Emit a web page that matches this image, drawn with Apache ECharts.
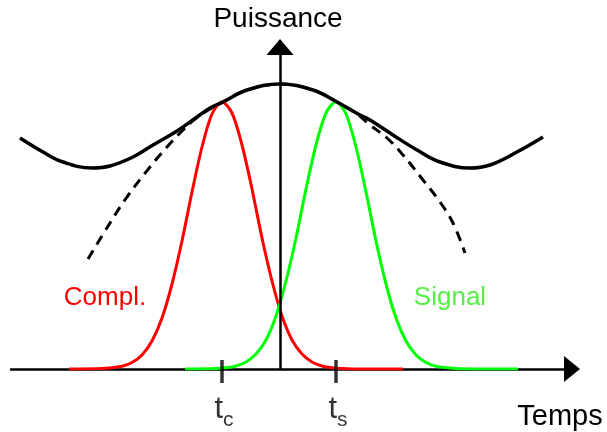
<!DOCTYPE html>
<html>
<head>
<meta charset="utf-8">
<script src="https://cdn.jsdelivr.net/npm/echarts@6/dist/echarts.min.js"></script>
<style>
  html, body { margin: 0; padding: 0; background: #fff; }
  #chart { width: 607px; height: 432px; }
</style>
</head>
<body>
<div id="chart"></div>
<script>
// Courbes : x = temps (0 sur l'axe vertical), y = puissance
const complX = [-211, -178, -158, -148, -138, -128, -118, -108, -98, -88, -78, -68, -58, -48, -38, -28, -18, -8, 2, 12, 22, 32, 42, 52, 62, 82, 123];
const complY = [0, 0.4, 2.7, 6.5, 14, 28, 51, 85, 128, 177, 222, 255, 267, 256, 224, 180, 131, 88, 53, 29, 15, 7, 3, 1.2, 0.5, 0, 0];

const signalX = [-95, -64, -54, -44, -34, -24, -14, -4, 6, 16, 26, 36, 46, 56, 66, 76, 86, 96, 106, 116, 126, 136, 146, 156, 176, 196, 238];
const signalY = [0, 0.5, 1.2, 3, 7, 15, 29, 53, 88, 131, 180, 224, 256, 267, 255, 222, 177, 128, 85, 51, 28, 14, 6.5, 2.7, 0.4, 0, 0];

// enveloppe (trait plein)
const envX = [-260, -237, -217, -188, -170, -147, -127, -103, -83, -70, -57, -33, 0, 33, 57, 80, 90, 113, 137, 160, 190, 210, 237, 263];
const envY = [231, 217, 207, 201, 203, 212, 224, 238, 252, 261, 267, 279, 285, 279, 267, 254, 249, 234, 219, 207, 201, 204, 217, 232];

// parabole (pointillés), confondue avec l'enveloppe vers le sommet
const parX = [-192, -170, -153, -130, -113, -97, -85, -70, -57, -33, 0, 33, 57, 77, 90, 107, 123, 143, 160, 173, 185];
const parY = [110, 146, 172, 202, 222, 239, 250, 260, 267, 279, 285, 279, 267, 255, 244, 231, 214, 189, 167, 146, 116];

// graduations
const tickX = [-58, 56];
const tickSub = ['c', 's'];

const zip = (xs, ys) => xs.map((x, i) => [x, ys[i]]);
const font = "'Liberation Sans', Arial, sans-serif";

const chart = echarts.init(document.getElementById('chart'));
chart.setOption({
  animation: false,
  backgroundColor: '#fff',
  grid: { left: 11, right: 35, top: 47, bottom: 63 },
  xAxis: {
    type: 'value', min: -269, max: 292, z: 0,
    axisLine: { lineStyle: { color: '#000', width: 2.5 }, symbol: ['none', 'triangle'], symbolSize: [26, 16] },
    axisTick: { show: false }, axisLabel: { show: false }, splitLine: { show: false }
  },
  yAxis: {
    type: 'value', min: 0, max: 322, z: 5,
    axisLine: { onZero: true, lineStyle: { color: '#000', width: 2.5 }, symbol: ['none', 'triangle'], symbolSize: [27, 16] },
    axisTick: { show: false }, axisLabel: { show: false }, splitLine: { show: false }
  },
  series: [
    {
      type: 'line', data: zip(parX, parY), smooth: 0.4, showSymbol: false, z: 2,
      lineStyle: { color: '#000', width: 3, type: [10, 7] }
    },
    {
      type: 'line', data: zip(complX, complY), smooth: 0.3, showSymbol: false, z: 3,
      lineStyle: { color: '#ff0000', width: 3 }
    },
    {
      type: 'line', data: zip(signalX, signalY), smooth: 0.3, showSymbol: false, z: 3,
      lineStyle: { color: '#00ff00', width: 3 }
    },
    {
      type: 'line', data: zip(envX, envY), smooth: 0.4, showSymbol: false, z: 4,
      lineStyle: { color: '#000', width: 3.5 }
    },
    {
      type: 'scatter', z: 6,
      data: tickX.map((x, i) => ({ value: [x, 0], sub: tickSub[i] })),
      symbol: 'rect', symbolSize: [3.5, 23], symbolOffset: [0, 2.5],
      itemStyle: { color: '#000' },
      label: {
        show: true, position: 'bottom', distance: 11, offset: [2, 0],
        formatter: p => '{t|t}{s|' + p.data.sub + '}',
        rich: {
          t: { fontFamily: font, fontSize: 31, color: '#000', verticalAlign: 'top', lineHeight: 34 },
          s: { fontFamily: font, fontSize: 21, color: '#000', verticalAlign: 'top', lineHeight: 20, padding: [16, 0, 0, 0] }
        }
      }
    }
  ],
  graphic: [
    { type: 'text', style: { text: 'Puissance', x: 278, y: 19, align: 'center', verticalAlign: 'middle', font: '28px ' + font, fill: '#000' } },
    { type: 'text', style: { text: 'Temps', x: 560, y: 417, align: 'center', verticalAlign: 'middle', font: '29px ' + font, fill: '#000' } },
    { type: 'text', style: { text: 'Compl.', x: 105, y: 298, align: 'center', verticalAlign: 'middle', font: '26px ' + font, fill: '#ff0000' } },
    { type: 'text', style: { text: 'Signal', x: 450, y: 298, align: 'center', verticalAlign: 'middle', font: '26px ' + font, fill: '#55ee44' } }
  ]
});
</script>
</body>
</html>
